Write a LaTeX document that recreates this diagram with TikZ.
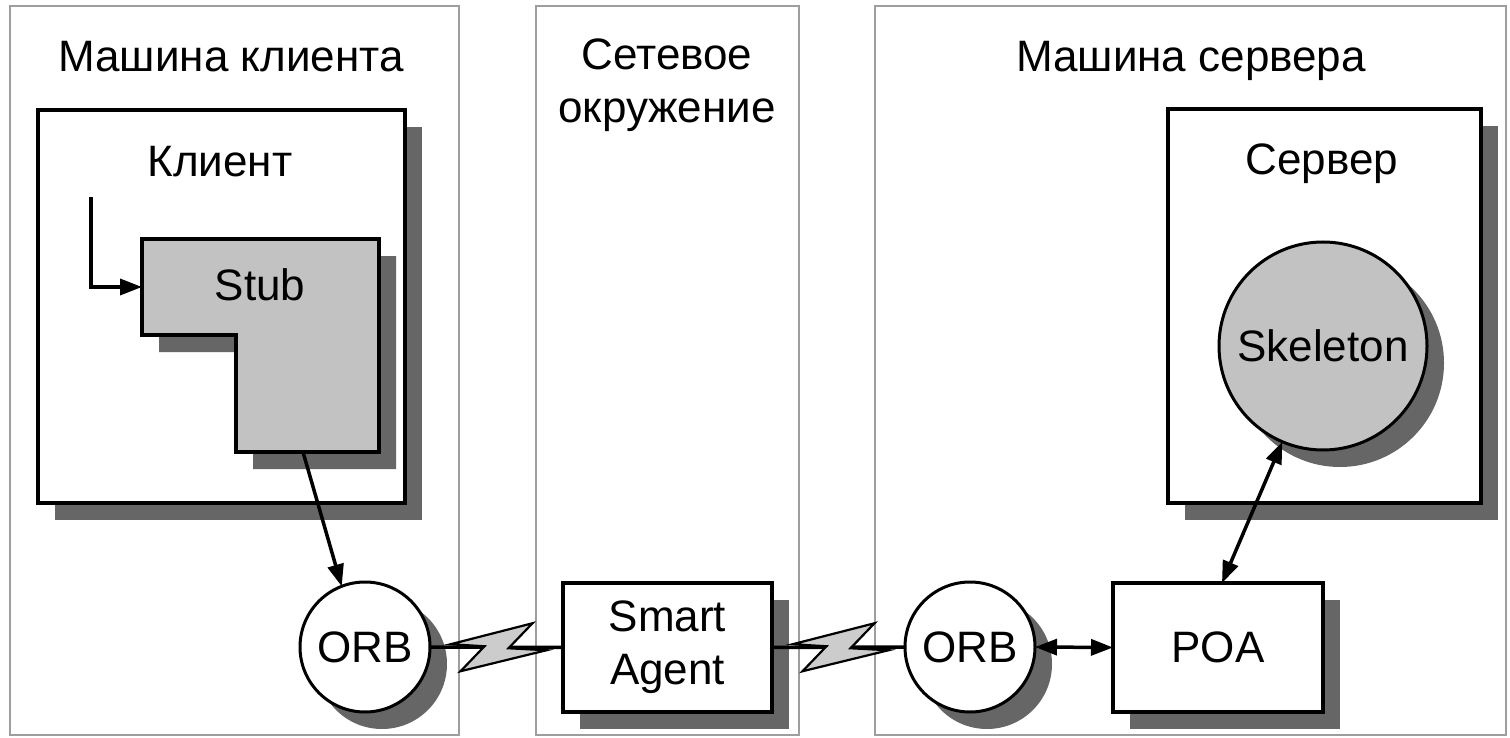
\documentclass[tikz,border=0pt]{standalone}
\usepackage{fontspec}
\setmainfont{Liberation Sans}
\usetikzlibrary{arrows.meta,shadows,calc}
\definecolor{shgray}{gray}{0.4}
\definecolor{fillgray}{gray}{0.76}
\definecolor{panelgray}{gray}{0.62}
\definecolor{boltgray}{gray}{0.8}
\newcommand{\zigbolt}[1]{%
  \filldraw[fill=boltgray, draw=black, line width=2.2pt, line join=miter]
    ([shift={(-46,-3)}]#1) -- ([shift={(36,-24)}]#1) -- ([shift={(12,1)}]#1) --
    ([shift={(50,3)}]#1) -- ([shift={(-36,24)}]#1) -- ([shift={(-12,-1)}]#1) -- cycle;}
\begin{document}
\begin{tikzpicture}[x=1pt,y=-1pt,
  every node/.style={font=\fontsize{44}{53}\selectfont, inner sep=0pt, outer sep=0pt},
  panel/.style={draw=panelgray, line width=2.2pt},
  shad/.style={drop shadow={shadow xshift=17pt, shadow yshift=-17pt, fill=shgray, opacity=1}},
  box/.style={draw=black, line width=3.5pt, fill=white, shad},
  orbc/.style={circle, draw=black, line width=3pt, fill=white, minimum size=130pt, shad},
  conn/.style={draw=black, line width=3.5pt},
  tip/.style={-{Triangle[length=22pt,width=16pt]}},
  dtip/.style={{Triangle[length=22pt,width=16pt]}-{Triangle[length=22pt,width=16pt]}}
]
\useasboundingbox (0,0) rectangle (1510,738);
\fill[white] (0,0) rectangle (1510,738);

% panels
\draw[panel] (10,6) rectangle (459,735);
\draw[panel] (536,6) rectangle (799,735);
\draw[panel] (875,6) rectangle (1506,735);

% titles
\node[anchor=base] (tclient) at (231,72) {Машина клиента};
\node[anchor=base] (tneta) at (667,70) {Сетевое};
\node[anchor=base] (tnetb) at (667,123) {окружение};
\node[anchor=base] (tserver) at (1191,72) {Машина сервера};

% client box
\node[box, minimum width=367pt, minimum height=393pt] (client) at (221.5,306.5) {};
\node[anchor=base] (tcl) at (220,177) {Клиент};

% stub L-shape
\fill[shgray] (159,256) -- (396,256) -- (396,469) -- (253,469) -- (253,352) -- (159,352) -- cycle;
\filldraw[fill=fillgray, draw=black, line width=3.5pt, line join=miter]
  (142,239) -- (379,239) -- (379,452) -- (236,452) -- (236,335) -- (142,335) -- cycle;
\node[anchor=base] (stub) at (260,300) {Stub};
\coordinate (stubin) at (142,287);
\coordinate (stubbot) at (303,452);
\coordinate (callin) at (91,197);

% server box
\node[box, minimum width=313pt, minimum height=394pt] (server) at (1324.5,306) {};
\node[anchor=base] (tsv) at (1322,175) {Сервер};
\node[circle, draw=black, line width=3pt, fill=fillgray, minimum size=208pt, shad] (skel) at (1323,346) {Skeleton};

% bottom row
\node[orbc] (orbL) at (365,647) {ORB};
\node[box, minimum width=209pt, minimum height=129pt, align=center] (agent) at (667.5,647.5) {Smart\\Agent};
\node[orbc] (orbR) at (970,647) {ORB};
\node[box, minimum width=210pt, minimum height=129pt] (poa) at (1218,647.5) {POA};

% connectors
\draw[conn, tip] (callin) |- (stubin);
\draw[conn, tip] (stubbot) -- (orbL.111);
\draw[conn] (orbL.east) -- (agent.west);
\draw[conn] (agent.east) -- (orbR.west);
\coordinate (b1) at ($(orbL.east)!0.5!(agent.west)$);
\coordinate (b2) at ($(agent.east)!0.5!(orbR.west)$);
\zigbolt{b1}
\zigbolt{b2}
\draw[conn, dtip] (orbR.east) -- (poa.west);
\draw[conn, dtip] ([xshift=4pt]poa.north) -- (skel.247);
\end{tikzpicture}
\end{document}
